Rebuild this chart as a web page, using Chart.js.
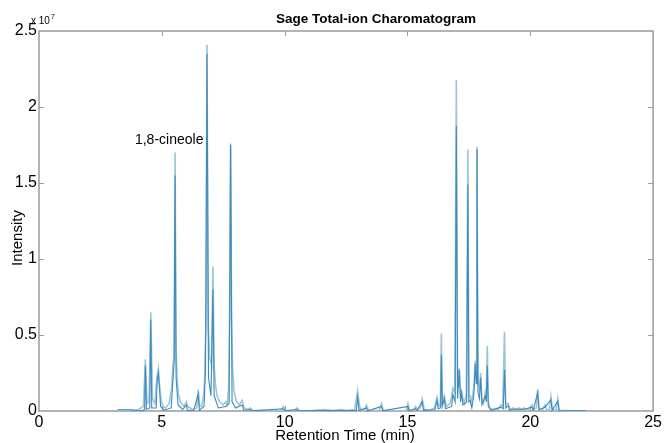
<!DOCTYPE html>
<html>
<head>
<meta charset="utf-8">
<script src="https://cdn.jsdelivr.net/npm/chart.js@4.4.1/dist/chart.umd.min.js"></script>
<style>
html,body{margin:0;padding:0;background:#fff;}
canvas{display:block;}
</style>
</head>
<body>
<canvas id="c" width="664" height="443"></canvas>
<script>
// Retention time (min) and intensity (x 10^7) pairs
const darkTrace = [
 [3.2,0.008],[3.8,0.008],[3.85,0.002],[4.2,0.003],[4.3,0.01],[4.33,0.30],[4.37,0.01],[4.51,0.02],[4.55,0.60],[4.59,0.02],
 [4.77,0.02],[4.81,0.20],[4.86,0.25],[4.9,0.16],[4.95,0.03],[5.1,0.005],[5.38,0.02],[5.46,0.22],[5.5,0.32],[5.54,1.55],
 [5.58,0.22],[5.66,0.04],[5.85,0.01],[6.0,0.04],[6.04,0.005],[6.3,0.005],[6.48,0.11],[6.53,0.005],[6.72,0.03],[6.78,0.28],
 [6.84,2.35],[6.9,0.22],[7.0,0.10],[7.08,0.80],[7.13,0.10],[7.3,0.02],[7.6,0.03],[7.74,0.05],[7.8,1.75],[7.86,0.06],
 [8.0,0.02],[8.27,0.04],[8.33,0.005],[8.6,0.01],[8.7,0.001],[9.95,0.015],[10.03,0.001],[10.5,0.01],[10.58,0.001],[12.92,0.004],
 [12.97,0.09],[13.03,0.004],[13.33,0.02],[13.38,0.001],[13.94,0.03],[13.99,0.001],[15.02,0.03],[15.07,0.001],[15.33,0.015],[15.38,0.002],
 [15.6,0.06],[15.65,0.004],[16.12,0.008],[16.2,0.07],[16.25,0.015],[16.35,0.02],[16.38,0.37],[16.42,0.03],[16.5,0.08],[16.55,0.015],
 [16.8,0.03],[16.85,0.11],[16.94,0.06],[16.99,1.875],[17.04,0.08],[17.11,0.27],[17.16,0.06],[17.2,0.12],[17.26,0.04],[17.41,0.06],
 [17.46,1.49],[17.5,0.06],[17.55,0.07],[17.62,0.02],[17.7,0.10],[17.76,0.31],[17.8,0.18],[17.83,1.72],[17.87,0.12],[17.93,0.08],
 [17.98,0.22],[18.03,0.04],[18.17,0.10],[18.21,0.06],[18.25,0.30],[18.29,0.03],[18.4,0.005],[18.8,0.025],[18.9,0.015],[18.95,0.27],
 [19.0,0.02],[19.1,0.035],[19.16,0.004],[19.3,0.012],[19.55,0.012],[19.75,0.012],[20.07,0.025],[20.12,0.004],[20.3,0.12],[20.35,0.008],
 [20.6,0.025],[20.84,0.075],[20.89,0.004],[21.12,0.065],[21.17,0.003],[22.27,0.002]
];
const lightTrace = [
 [3.2,0.005],[3.8,0.005],[4.05,0.01],[4.25,0.03],[4.33,0.34],[4.4,0.05],[4.48,0.06],[4.55,0.65],[4.62,0.08],[4.72,0.05],
 [4.8,0.22],[4.86,0.28],[4.9,0.18],[4.95,0.10],[5.0,0.05],[5.05,0.03],[5.15,0.02],[5.3,0.05],[5.4,0.15],[5.45,0.30],[5.5,0.35],[5.54,1.70],
 [5.58,0.40],[5.62,0.22],[5.67,0.12],[5.75,0.06],[5.9,0.03],[6.0,0.06],[6.05,0.03],[6.15,0.02],[6.25,0.01],[6.42,0.02],[6.48,0.14],
 [6.54,0.03],[6.62,0.03],[6.7,0.10],[6.74,0.2],[6.76,0.37],[6.8,0.60],[6.84,2.41],[6.89,0.55],[6.95,0.35],[7.03,0.30],[7.08,0.95],
 [7.13,0.30],[7.18,0.18],[7.25,0.10],[7.35,0.06],[7.5,0.04],[7.6,0.06],[7.66,0.04],[7.72,0.15],[7.76,0.60],[7.8,1.76],[7.84,0.60],
 [7.88,0.28],[7.94,0.13],[8.02,0.07],[8.15,0.04],[8.27,0.07],[8.35,0.02],[8.5,0.01],[8.6,0.02],[8.7,0.005],[9.0,0.003],[9.3,0.005],
 [9.5,0.003],[9.85,0.003],[9.95,0.03],[10.02,0.003],[10.4,0.003],[10.5,0.02],[10.6,0.003],[11.0,0.002],[11.6,0.01],[12.0,0.003],
 [12.3,0.01],[12.5,0.003],[12.85,0.01],[12.97,0.134],[13.05,0.03],[13.12,0.01],[13.25,0.005],[13.33,0.04],[13.42,0.005],[13.85,0.005],[13.94,0.05],
 [14.02,0.005],[14.5,0.002],[14.95,0.003],[15.02,0.05],[15.08,0.003],[15.25,0.005],[15.33,0.03],[15.42,0.01],[15.52,0.02],[15.6,0.08],
 [15.68,0.01],[15.9,0.005],[16.1,0.02],[16.2,0.09],[16.28,0.03],[16.34,0.05],[16.38,0.51],[16.42,0.06],[16.5,0.10],[16.58,0.03],
 [16.75,0.05],[16.85,0.15],[16.93,0.12],[16.99,2.18],[17.04,0.15],[17.11,0.28],[17.16,0.12],[17.2,0.13],[17.26,0.08],[17.32,0.05],
 [17.4,0.12],[17.46,1.72],[17.5,0.10],[17.55,0.10],[17.6,0.05],[17.7,0.15],[17.76,0.33],[17.8,0.25],[17.83,1.74],[17.87,0.20],
 [17.93,0.15],[17.98,0.25],[18.03,0.08],[18.1,0.05],[18.17,0.13],[18.21,0.12],[18.25,0.43],[18.29,0.06],[18.35,0.02],[18.5,0.01],
 [18.7,0.01],[18.8,0.04],[18.88,0.03],[18.95,0.52],[19.0,0.04],[19.1,0.05],[19.18,0.01],[19.3,0.02],[19.4,0.01],[19.55,0.02],
 [19.65,0.01],[19.75,0.02],[19.9,0.005],[20.07,0.04],[20.12,0.01],[20.25,0.02],[20.3,0.143],[20.36,0.02],[20.5,0.01],[20.6,0.04],
 [20.66,0.01],[20.78,0.01],[20.84,0.095],[20.9,0.01],[21.05,0.005],[21.12,0.08],[21.18,0.005],[21.5,0.003],[22.27,0.002]
];
const xTickValues = [0, 5, 10, 15, 20, 25];
const xTickLabels = ['0', '5', '10', '15', '20', '25'];
const yTickValues = [0, 0.5, 1, 1.5, 2, 2.5];
const yTickLabels = ['0', '0.5', '1', '1.5', '2', '2.5'];
const peakLabel = { text: '1,8-cineole', x: 5.3, y: 1.78 };

const FONT = '"Liberation Sans", Arial, Helvetica, sans-serif';
const AXIS = '#9a9a9a';

const toPts = arr => arr.map(p => ({ x: p[0], y: p[1] }));

const decor = {
  id: 'decor',
  beforeDatasetsDraw(chart) {
    const { ctx, chartArea: a, scales: { x, y } } = chart;
    ctx.save();
    ctx.strokeStyle = AXIS;
    ctx.lineWidth = 1.5;
    ctx.strokeRect(a.left, a.top, a.right - a.left, a.bottom - a.top);
    ctx.lineWidth = 1;
    const tl = 5;
    xTickValues.forEach(v => {
      const px = Math.round(x.getPixelForValue(v)) + 0.5;
      if (v === 0 || v === 25) return;
      ctx.beginPath();
      ctx.moveTo(px, a.bottom); ctx.lineTo(px, a.bottom - tl);
      ctx.moveTo(px, a.top); ctx.lineTo(px, a.top + tl);
      ctx.stroke();
    });
    yTickValues.forEach(v => {
      const py = Math.round(y.getPixelForValue(v)) + 0.5;
      if (v === 0 || v === 2.5) return;
      ctx.beginPath();
      ctx.moveTo(a.left, py); ctx.lineTo(a.left + tl, py);
      ctx.moveTo(a.right, py); ctx.lineTo(a.right - tl, py);
      ctx.stroke();
    });
    ctx.restore();
  },
  afterDraw(chart) {
    const { ctx, chartArea: a, scales: { x, y } } = chart;
    ctx.save();
    ctx.fillStyle = '#000';
    ctx.font = 'bold 13.5px ' + FONT;
    ctx.textAlign = 'center';
    ctx.textBaseline = 'middle';
    ctx.fillText('Sage Total-ion Charomatogram', 376, 19);
    ctx.textAlign = 'left';
    ctx.font = '10px ' + FONT;
    ctx.fillText('x 10', 31, 21);
    const w = ctx.measureText('x 10').width;
    ctx.font = '7px ' + FONT;
    ctx.fillText('7', 31 + w + 1, 17);
    ctx.font = '15px ' + FONT;
    ctx.textAlign = 'center';
    ctx.fillText('Retention Time (min)', 345, 436);
    ctx.save();
    ctx.translate(18, 238);
    ctx.rotate(-Math.PI / 2);
    ctx.fillText('Intensity', 0, 0);
    ctx.restore();
    ctx.font = '14px ' + FONT;
    ctx.fillText(peakLabel.text, x.getPixelForValue(peakLabel.x), y.getPixelForValue(peakLabel.y));
    ctx.restore();
  }
};

new Chart(document.getElementById('c'), {
  type: 'scatter',
  data: {
    datasets: [
      { label: 'dark', data: toPts(darkTrace), showLine: true, borderColor: 'rgb(62,138,190)', borderWidth: 1.1, pointRadius: 0, tension: 0, order: 1 },
      { label: 'light', data: toPts(lightTrace), showLine: true, borderColor: 'rgb(155,198,216)', borderWidth: 1.6, pointRadius: 0, tension: 0, order: 2 }
    ]
  },
  plugins: [decor],
  options: {
    responsive: false,
    devicePixelRatio: 1,
    animation: false,
    events: [],
    layout: { padding: { top: 31, right: 7, left: 0, bottom: 0 } },
    plugins: { legend: { display: false }, tooltip: { enabled: false }, title: { display: false } },
    scales: {
      x: {
        type: 'linear', min: 0, max: 25,
        afterBuildTicks(s) { s.ticks = xTickValues.map(v => ({ value: v })); },
        afterFit(s) { s.height = 32; },
        grid: { display: false, drawTicks: false },
        border: { display: false },
        ticks: { padding: 2, color: '#000', font: { family: FONT, size: 16 }, maxRotation: 0, autoSkip: false,
          callback: (v) => xTickLabels[xTickValues.indexOf(v)] }
      },
      y: {
        type: 'linear', min: 0, max: 2.5,
        afterBuildTicks(s) { s.ticks = yTickValues.map(v => ({ value: v })); },
        afterFit(s) { s.width = 39; },
        grid: { display: false, drawTicks: false },
        border: { display: false },
        ticks: { padding: 2, color: '#000', font: { family: FONT, size: 16 }, autoSkip: false,
          callback: (v) => yTickLabels[yTickValues.indexOf(v)] }
      }
    }
  }
});
</script>
</body>
</html>
